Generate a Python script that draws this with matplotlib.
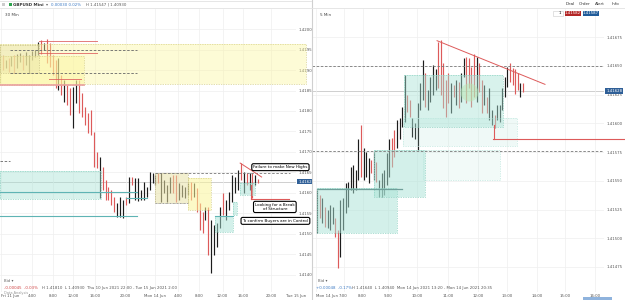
import matplotlib
matplotlib.use("Agg")
import matplotlib.pyplot as plt
from matplotlib.patches import Rectangle
import numpy as np

plt.rcParams["font.family"] = ["DejaVu Sans"]

# ---- 30 min panel (GBPUSD Mini) ----
l_high = [1.41937, 1.41924, 1.41929, 1.41934, 1.41937, 1.41939, 1.41941, 1.41937, 1.41944, 1.41937,
          1.41946, 1.41949, 1.41968, 1.41973, 1.41966, 1.41976, 1.41966, 1.41937, 1.41924, 1.41929,
          1.41888, 1.41876, 1.41863, 1.41856, 1.41859, 1.41876, 1.41876, 1.41844, 1.41810, 1.41795,
          1.41802, 1.41749, 1.41700, 1.41688, 1.41663, 1.41632, 1.41615, 1.41607, 1.41590, 1.41576,
          1.41590, 1.41583, 1.41590, 1.41639, 1.41639, 1.41637, 1.41637, 1.41607, 1.41627, 1.41615,
          1.41651, 1.41649, 1.41644, 1.41649, 1.41649, 1.41632, 1.41620, 1.41639, 1.41644, 1.41644,
          1.41624, 1.41620, 1.41615, 1.41624, 1.41627, 1.41624, 1.41612, 1.41576, 1.41554, 1.41566,
          1.41566, 1.41534, 1.41522, 1.41527, 1.41566, 1.41600, 1.41583, 1.41602, 1.41644, 1.41639,
          1.41656, 1.41673, 1.41651, 1.41649, 1.41649, 1.41649, 1.41644, 1.41634]
l_low = [1.41900, 1.41905, 1.41895, 1.41910, 1.41893, 1.41905, 1.41920, 1.41900, 1.41912, 1.41893,
         1.41924, 1.41932, 1.41937, 1.41939, 1.41949, 1.41917, 1.41907, 1.41888, 1.41856, 1.41851,
         1.41839, 1.41822, 1.41815, 1.41790, 1.41759, 1.41820, 1.41795, 1.41785, 1.41766, 1.41746,
         1.41741, 1.41663, 1.41661, 1.41588, 1.41607, 1.41583, 1.41583, 1.41571, 1.41554, 1.41541,
         1.41541, 1.41539, 1.41571, 1.41576, 1.41620, 1.41583, 1.41580, 1.41583, 1.41583, 1.41590,
         1.41607, 1.41624, 1.41620, 1.41624, 1.41578, 1.41600, 1.41578, 1.41600, 1.41600, 1.41578,
         1.41583, 1.41590, 1.41588, 1.41595, 1.41583, 1.41590, 1.41554, 1.41510, 1.41502, 1.41534,
         1.41449, 1.41405, 1.41449, 1.41468, 1.41515, 1.41546, 1.41534, 1.41559, 1.41578, 1.41600,
         1.41607, 1.41632, 1.41600, 1.41620, 1.41607, 1.41588, 1.41620, 1.41624]
# R = bearish bar, K = bullish bar
l_dir = ("RKRKRKKRKK" "KKKRKRRRRK" "RKRRKKRRRR" "RRRKRRRRRK" "KKRKRKKKKK"
         "KKKRKKKKRR" "KKKKRKRRRK" "RKKKKRKKKK" "KRKRKRKR")
l_ticks = [1.42000, 1.41950, 1.41900, 1.41850, 1.41800, 1.41750, 1.41700,
           1.41650, 1.41600, 1.41550, 1.41500, 1.41450, 1.41400]
l_xlabels = ["Fri 11 Jun", "4:00", "8:00", "12:00", "16:00", "20:00", "Mon 14 Jun",
             "4:00", "8:00", "12:00", "16:00", "20:00", "Tue 15 Jun"]
l_xpos = [-0.6, 10.1, 17.1, 24.1, 31.4, 41.8, 51.8, 59.8, 66.8, 74.8, 81.8, 91.4, 99.8]

# ---- 5 min panel ----
r_high = [1.41542, 1.41538, 1.41535, 1.41527, 1.41525, 1.41529, 1.41527, 1.41518, 1.41507, 1.41533,
          1.41535, 1.41548, 1.41549, 1.41562, 1.41564, 1.41559, 1.41586, 1.41599, 1.41579, 1.41575,
          1.41570, 1.41568, 1.41575, 1.41566, 1.41551, 1.41557, 1.41559, 1.41574, 1.41586, 1.41587,
          1.41594, 1.41603, 1.41605, 1.41614, 1.41642, 1.41625, 1.41620, 1.41605, 1.41600, 1.41618,
          1.41635, 1.41655, 1.41644, 1.41629, 1.41640, 1.41651, 1.41647, 1.41671, 1.41673, 1.41653,
          1.41638, 1.41644, 1.41635, 1.41633, 1.41638, 1.41636, 1.41644, 1.41657, 1.41658, 1.41657,
          1.41649, 1.41660, 1.41658, 1.41653, 1.41638, 1.41633, 1.41623, 1.41631, 1.41612, 1.41607,
          1.41616, 1.41616, 1.41631, 1.41640, 1.41649, 1.41653, 1.41648, 1.41647, 1.41644, 1.41635,
          1.41635]
r_low = [1.41505, 1.41518, 1.41513, 1.41510, 1.41509, 1.41507, 1.41512, 1.41501, 1.41474, 1.41484,
         1.41507, 1.41522, 1.41527, 1.41542, 1.41539, 1.41542, 1.41551, 1.41553, 1.41551, 1.41553,
         1.41548, 1.41557, 1.41551, 1.41549, 1.41536, 1.41536, 1.41538, 1.41546, 1.41553, 1.41562,
         1.41571, 1.41579, 1.41586, 1.41597, 1.41601, 1.41610, 1.41606, 1.41588, 1.41586, 1.41577,
         1.41612, 1.41620, 1.41614, 1.41612, 1.41619, 1.41625, 1.41629, 1.41631, 1.41625, 1.41613,
         1.41606, 1.41618, 1.41609, 1.41623, 1.41616, 1.41613, 1.41619, 1.41640, 1.41618, 1.41631,
         1.41614, 1.41623, 1.41619, 1.41627, 1.41609, 1.41616, 1.41609, 1.41603, 1.41599, 1.41596,
         1.41603, 1.41601, 1.41612, 1.41623, 1.41632, 1.41636, 1.41633, 1.41626, 1.41629, 1.41623,
         1.41627]
r_dir = ("KRKRKKKRRK" "KKKKKKKRKK" "KRKRKKKKKR" "RKKKKRRKKK" "KKRKKKKRRR"
         "RRKRKRKKRR" "RRKRRKRKKR" "KKKKKRRRRK" "R")
r_ticks = [1.41675, 1.41650, 1.41625, 1.41600, 1.41575, 1.41550, 1.41525, 1.41500, 1.41475]
r_xlabels = ["Mon 14 Jun", "7:00", "8:00", "9:00", "10:00", "11:00", "12:00",
             "13:00", "14:00", "15:00", "16:00"]
r_xpos = [-0.5, 10.2, 17.6, 27.5, 38.8, 50.9, 62.5, 73.8, 85.5, 96.4, 108.1]

LAST = 1.41628
RED, BLACK = "#dd5a5a", "#1c1c1c"
YEL, TAN, CYAN = "#fbf59a", "#e9e2a8", "#a9e3d6"
GRID = "#efefef"
TXT = "#555555"

fig = plt.figure(figsize=(6.25, 3.0), dpi=100)
fig.patch.set_facecolor("white")


def zone(ax, x0, x1, p0, p1, fc, alpha, ec=None, z=3):
    ax.add_patch(Rectangle((x0, p1), x1 - x0, p0 - p1, facecolor=fc, alpha=alpha,
                           edgecolor="none", zorder=z, clip_on=False))
    if ec:
        ax.add_patch(Rectangle((x0, p1), x1 - x0, p0 - p1, facecolor="none",
                               edgecolor=ec, lw=0.5, ls=(0, (2, 1.5)), zorder=z + 0.1,
                               clip_on=False))


def panel(rect, highs, lows, dirs, xlim, ylim, ticks, xlabels, xpos, fmt):
    ax = fig.add_axes(rect)
    idx = np.arange(len(highs))
    cols = [RED if d == "R" else BLACK for d in dirs]
    ax.vlines(idx, lows, highs, colors=cols, lw=0.85, zorder=2)
    ax.set_xlim(*xlim)
    ax.set_ylim(*ylim)
    ax.yaxis.tick_right()
    ax.set_yticks(ticks)
    ax.set_yticklabels([fmt.format(t) for t in ticks])
    ax.set_xticks(xpos)
    ax.set_xticklabels(xlabels)
    ax.get_xticklabels()[0].set_ha("left")
    ax.tick_params(length=0, labelsize=2.8, colors=TXT, pad=1.5)
    ax.grid(True, color=GRID, lw=0.5, zorder=0)
    for s in ax.spines.values():
        s.set_visible(False)
    ax.axhline(LAST, color="#c8c8c8", lw=0.6, zorder=1)
    return ax


# ---------------- left ----------------
axl = panel([0.0, 8 / 300, 296 / 625, 283 / 300], l_high, l_low, l_dir,
            (-0.9, 97.77), (1.413585, 1.420488), l_ticks, l_xlabels, l_xpos, "{:.5f}")

zone(axl, -0.9, 103.1, 1.41866, 1.41963, YEL, 0.4, "#d8d28a")
zone(axl, -0.9, 27.8, 1.41863, 1.41934, YEL, 0.45, "#d8d28a")
zone(axl, -0.9, 12.4, 1.41893, 1.41961, TAN, 0.45, "#c9c28a")
axl.plot([-0.9, 27.8], [1.41863, 1.41863], color="#eaa0a0", lw=1.2, zorder=4)
for p in (1.41971, 1.41941):
    axl.plot([12.4, 32.1], [p, p], color=RED, lw=0.7, alpha=0.8, zorder=4)
axl.plot([15.8, 26.8], [1.41878, 1.41878], color=RED, lw=0.7, alpha=0.8, zorder=4)
for p in (1.41949, 1.41893):
    axl.plot([2.4, 45.8], [p, p], color="#666666", lw=0.6, ls=(0, (3, 2)), zorder=4)
axl.plot([-0.9, 2.4], [1.41678, 1.41678], color="#666666", lw=0.6, ls=(0, (3, 2)), zorder=4)

zone(axl, -0.9, 33.4, 1.41585, 1.41654, CYAN, 0.45, "#8fd3c3")
for p in (1.41602, 1.41544):
    axl.plot([-0.9, 45.8], [p, p], color="#5fb4b4", lw=0.8, zorder=4)
axl.plot([41.8, 49.1], [1.41588, 1.41588], color="#5fb4b4", lw=0.8, zorder=4)

axl.plot([51.8, 97.77], [1.41649, 1.41649], color="#777777", lw=0.6, ls=(0, (3, 2)), zorder=4)
axl.plot([51.8, 63.1], [1.41576, 1.41576], color="#999999", lw=0.5, ls=(0, (3, 2)), zorder=4)
zone(axl, 51.8, 63.1, 1.41576, 1.41649, TAN, 0.55, "#b9b38a")
zone(axl, 63.1, 70.8, 1.41559, 1.41637, YEL, 0.55, "#d8d28a")

zone(axl, 72.4, 78.4, 1.41505, 1.41544, CYAN, 0.5, "#8fd3c3")
zone(axl, 78.4, 79.8, 1.41546, 1.41578, CYAN, 0.5, "#8fd3c3")
zone(axl, 80.8, 85.8, 1.41595, 1.41624, CYAN, 0.5, "#8fd3c3")
axl.plot([72.4, 78.4], [1.41544, 1.41544], color="#5fb4b4", lw=0.8, zorder=4)

axl.plot([84.4, 97.4], [1.41585, 1.41585], color=RED, lw=0.8, zorder=4, clip_on=False)
axl.plot([84.4, 84.4], [1.41620, 1.41585], color=RED, lw=0.8, zorder=4)
axl.plot([80.8, 88.1], [1.41673, 1.41639], color=RED, lw=0.7, zorder=4)

box = dict(boxstyle="round,pad=0.35,rounding_size=0.4", fc="white", ec="black", lw=0.8)
axl.text(94.5, 1.41663, "Failure to make New Highs", fontsize=3.0, ha="center",
         va="center", bbox=box, zorder=6, clip_on=False)
axl.text(92.6, 1.41566, "Looking for a Break\nof Structure", fontsize=3.0, ha="center",
         va="center", bbox=box, zorder=6, linespacing=1.1, clip_on=False)
axl.text(92.8, 1.41532, "To confirm Buyers are in Control", fontsize=3.0, ha="center",
         va="center", bbox=box, zorder=6, clip_on=False)

axl.annotate("1.41628", (1.0, LAST), xycoords=("axes fraction", "data"), xytext=(1.5, 0),
             textcoords="offset points", fontsize=2.8, color="white", va="center",
             bbox=dict(boxstyle="square,pad=0.25", fc="#2f5f97", ec="none"), zorder=7)

# ---------------- right ----------------
axr = panel([312 / 625, 8 / 300, 292 / 625, 283 / 300], r_high, r_low, r_dir,
            (-2.06, 111.56), (1.414532, 1.416996), r_ticks, r_xlabels, r_xpos, "{:.5f}")

zone(axr, -0.1, 31.0, 1.41505, 1.41544, CYAN, 0.5, "#8fd3c3")
axr.plot([-0.1, 33.0], [1.41543, 1.41543], color="#6f9f9a", lw=0.9, zorder=4)
zone(axr, 22.1, 41.9, 1.41536, 1.41577, CYAN, 0.5, "#8fd3c3")
zone(axr, 33.7, 72.3, 1.41597, 1.41642, CYAN, 0.45, "#8fd3c3")
zone(axr, 33.3, 77.7, 1.41580, 1.41605, CYAN, 0.18, "#bfe8df")
zone(axr, 41.1, 71.1, 1.41551, 1.41577, CYAN, 0.15, "#bfe8df")
for p in (1.41650, 1.41576):
    axr.axhline(p, color="#777777", lw=0.6, ls=(0, (3, 2)), zorder=4)
axr.plot([46.6, 88.6], [1.41672, 1.41634], color=RED, lw=0.7, zorder=4)
axr.plot([68.4, 120], [1.41586, 1.41586], color=RED, lw=0.8, zorder=4, clip_on=False)
axr.plot([68.8, 68.8], [1.41599, 1.41586], color=RED, lw=0.8, zorder=4)
axr.plot([59.0], [1.41627], "o", ms=13, color="#b8e6b0", alpha=0.5, mec="none", zorder=3)

axr.annotate("1.41628", (1.0, LAST), xycoords=("axes fraction", "data"), xytext=(1.5, 0),
             textcoords="offset points", fontsize=2.8, color="white", va="center",
             bbox=dict(boxstyle="square,pad=0.25", fc="#2f5f97", ec="none"), zorder=7)

# ---------------- chrome ----------------
fig.add_artist(plt.Line2D([311.5 / 625] * 2, [0, 1], color="#d0d0d0", lw=0.8))
fig.add_artist(plt.Line2D([0, 1], [1 - 8 / 300] * 2, color="#e2e2e2", lw=0.6))
fig.add_artist(plt.Line2D([0, 311 / 625], [1 - 1 / 300] * 2, color="#e2e2e2", lw=0.6))

fig.add_artist(Rectangle((2 / 625, 1 - 6 / 300), 3 / 625, 3 / 300, fc="#cccccc", ec="none"))
fig.add_artist(Rectangle((9 / 625, 1 - 6 / 300), 2.5 / 625, 3 / 300, fc="#2da44e", ec="none"))
fig.text(13 / 625, 1 - 4.5 / 300, "GBPUSD Mini", fontsize=3.0, fontweight="bold",
         color="#333333", va="center")
fig.text(46 / 625, 1 - 4.5 / 300, "\u25be", fontsize=3, color="#666666", va="center")
fig.text(51 / 625, 1 - 4.5 / 300, "0.00030 0.02%", fontsize=2.8, color="#3a78c3",
         va="center")
fig.text(86 / 625, 1 - 4.5 / 300, "H 1.41547 | 1.40930", fontsize=2.8, color="#555555",
         va="center")
fig.text(5 / 625, 1 - 15 / 300, "30 Min", fontsize=3, color="#444444", va="center")
fig.text(320 / 625, 1 - 15 / 300, "5 Min", fontsize=3, color="#444444", va="center")

for xp, lab in ((570, "Deal"), (585, "Order"), (600, "Alert"), (615, "Info")):
    fig.text(xp / 625, 1 - 4 / 300, lab, fontsize=3, color="#333333", ha="center",
             va="center")
fig.add_artist(Rectangle((553 / 625, 1 - 16 / 300), 10 / 625, 5 / 300, fc="white",
                         ec="#cccccc", lw=0.4))
fig.text(561 / 625, 1 - 13.5 / 300, "1", fontsize=2.8, ha="right", va="center")
fig.add_artist(Rectangle((565 / 625, 1 - 16 / 300), 16 / 625, 5 / 300, fc="#b32626",
                         ec="none"))
fig.text(573 / 625, 1 - 13.5 / 300, "1.41582", fontsize=2.8, color="white", ha="center",
         va="center")
fig.add_artist(Rectangle((583 / 625, 1 - 16 / 300), 16 / 625, 5 / 300, fc="#1f5b99",
                         ec="none"))
fig.text(591 / 625, 1 - 13.5 / 300, "1.41587", fontsize=2.8, color="white", ha="center",
         va="center")

fig.text(4 / 625, 1 - 281 / 300, "Bid \u25be", fontsize=2.8, color="#666666", va="center")
fig.text(4 / 625, 1 - 288 / 300, "-0.00045  -0.03%", fontsize=2.8, color="#d04040",
         va="center")
fig.text(42 / 625, 1 - 288 / 300,
         "H 1.41810  L 1.40930  Thu 10 Jun 2021 22:00 - Tue 15 Jun 2021 2:00",
         fontsize=2.8, color="#555555", va="center")
fig.text(4 / 625, 1 - 293 / 300, "Data Analysis", fontsize=2.5, color="#999999",
         va="center")
fig.text(318 / 625, 1 - 281 / 300, "Bid \u25be", fontsize=2.8, color="#666666", va="center")
fig.text(316 / 625, 1 - 288 / 300, "+0.00048  -0.17%", fontsize=2.8, color="#3a78c3",
         va="center")
fig.text(352 / 625, 1 - 288 / 300,
         "H 1.41640  L 1.40940  Mon 14 Jun 2021 13:20 - Mon 14 Jun 2021 20:35",
         fontsize=2.8, color="#555555", va="center")
fig.add_artist(Rectangle((583 / 625, 0), 29 / 625, 3 / 300, fc="#8fb3dd", ec="none"))

fig.savefig("out.png", dpi=100, facecolor="white")
